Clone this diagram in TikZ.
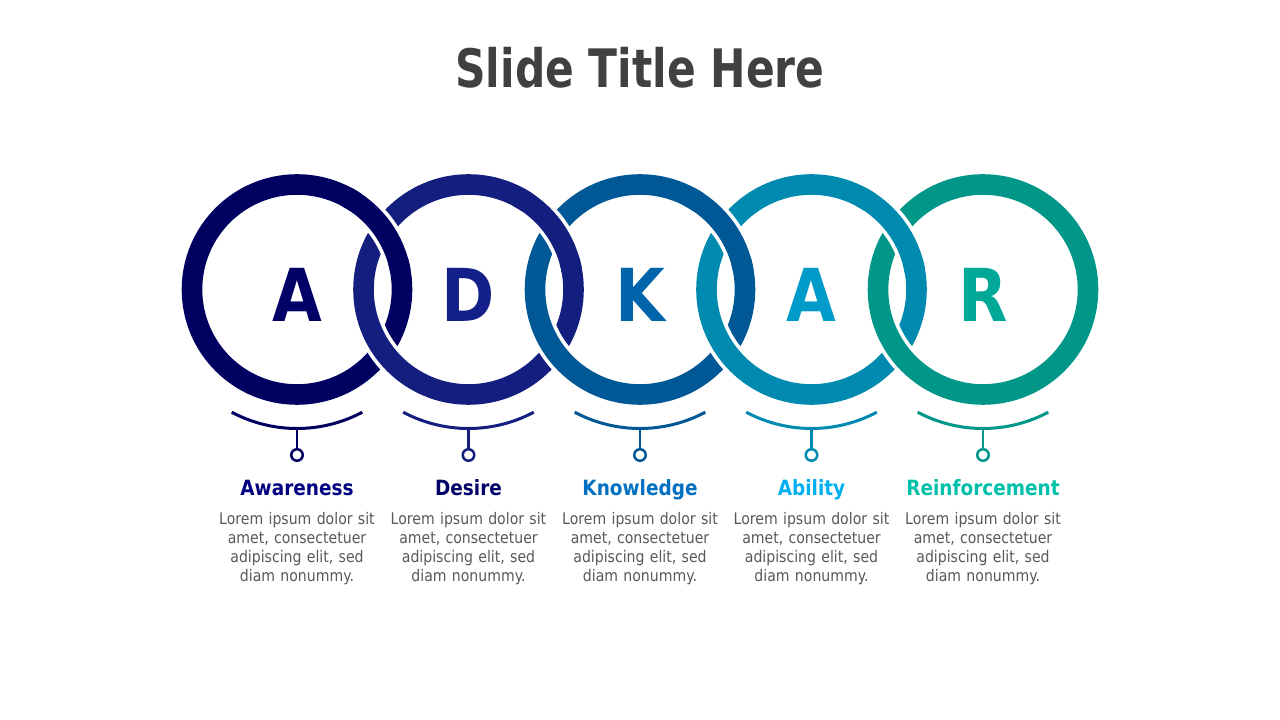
\documentclass[tikz,border=0pt]{standalone}
\usepackage{fontspec}
\setmainfont[FakeStretch=0.88]{DejaVu Sans}
\newfontfamily\slidetitlefont[FakeStretch=0.8]{DejaVu Sans}
\definecolor{titlegray}{RGB}{64,64,64}
\definecolor{bodygray}{RGB}{89,89,89}
\definecolor{ringA}{RGB}{0,0,96}
\definecolor{ringD}{RGB}{20,30,126}
\definecolor{ringK}{RGB}{0,88,150}
\definecolor{ringB}{RGB}{0,138,176}
\definecolor{ringR}{RGB}{0,150,136}
\definecolor{letA}{RGB}{0,0,102}
\definecolor{letD}{RGB}{20,32,138}
\definecolor{letK}{RGB}{0,100,170}
\definecolor{letB}{RGB}{0,155,200}
\definecolor{letR}{RGB}{0,168,152}
\definecolor{labA}{RGB}{0,0,128}
\definecolor{labD}{RGB}{0,0,102}
\definecolor{labK}{RGB}{0,112,192}
\definecolor{labB}{RGB}{0,176,240}
\definecolor{labR}{RGB}{0,192,170}
\begin{document}
\begin{tikzpicture}[x=1pt,y=1pt,
  titletext/.style={font=\slidetitlefont\bfseries\fontsize{53}{60}\selectfont, text=titlegray, inner sep=0pt, anchor=base},
  lettertext/.style={font=\bfseries\fontsize{73}{80}\selectfont, inner sep=0pt, anchor=base},
  labeltext/.style={font=\bfseries\fontsize{21}{24}\selectfont, inner sep=0pt, anchor=base},
  bodytext/.style={font=\fontsize{16}{19.1}\selectfont, text=bodygray, inner sep=0pt, anchor=base, text width=172pt, align=center},
  ringcase/.style={white, line width=28pt},
  ringline/.style={line width=20.6pt},
  underarc/.style={line width=3pt},
  stemline/.style={line width=2.5pt},
  dotcirc/.style={circle, draw, fill=white, line width=2.5pt, minimum size=11.5pt, inner sep=0pt}
]
\useasboundingbox (0,0) rectangle (1280,720);
\fill[white] (0,0) rectangle (1280,720);

\node[titletext] (title) at (640,632.7) {Slide Title Here};

% rings
\foreach \i/\cx/\col in {1/297/ringA,2/468.5/ringD,3/640/ringK,4/811.5/ringB,5/983/ringR}{
  \coordinate (c\i) at (\cx,430.5);
  \draw[ringcase] (c\i) circle (105);
  \draw[ringline, \col] (c\i) circle (105);
}
% upper crossings: left ring passes over
\foreach \i/\col in {1/ringA,2/ringD,3/ringK,4/ringB}{
  \draw[ringcase] ([shift={(16:105)}]c\i) arc (16:56:105);
  \draw[ringline, \col] ([shift={(10:105)}]c\i) arc (10:62:105);
}

% letters, arcs, stems, dots, labels, body
\foreach \i/\cx/\col/\lcol/\bcol/\ltr/\lab in {
  1/297/ringA/letA/labA/A/Awareness,
  2/468.5/ringD/letD/labD/D/Desire,
  3/640/ringK/letK/labK/K/Knowledge,
  4/811.5/ringB/letB/labB/A/Ability,
  5/983/ringR/letR/labR/R/Reinforcement}{
  \node[lettertext, text=\lcol] (L\i) at (\cx,398) {\ltr};
  \draw[underarc, \col] ([shift={(-118:139)}]c\i) arc (-118:-62:139);
  \coordinate (b\i) at (\cx,291.5);
  \node[dotcirc, draw=\col] (d\i) at (\cx,265) {};
  \draw[stemline, \col] (b\i) -- (d\i.north);
  \node[labeltext, text=\bcol] (t\i) at (\cx,224.3) {\lab};
  \node[bodytext] (p\i) at (\cx,195.7) {Lorem ipsum dolor sit\\amet, consectetuer\\adipiscing elit, sed\\diam nonummy.};
}
\end{tikzpicture}
\end{document}
